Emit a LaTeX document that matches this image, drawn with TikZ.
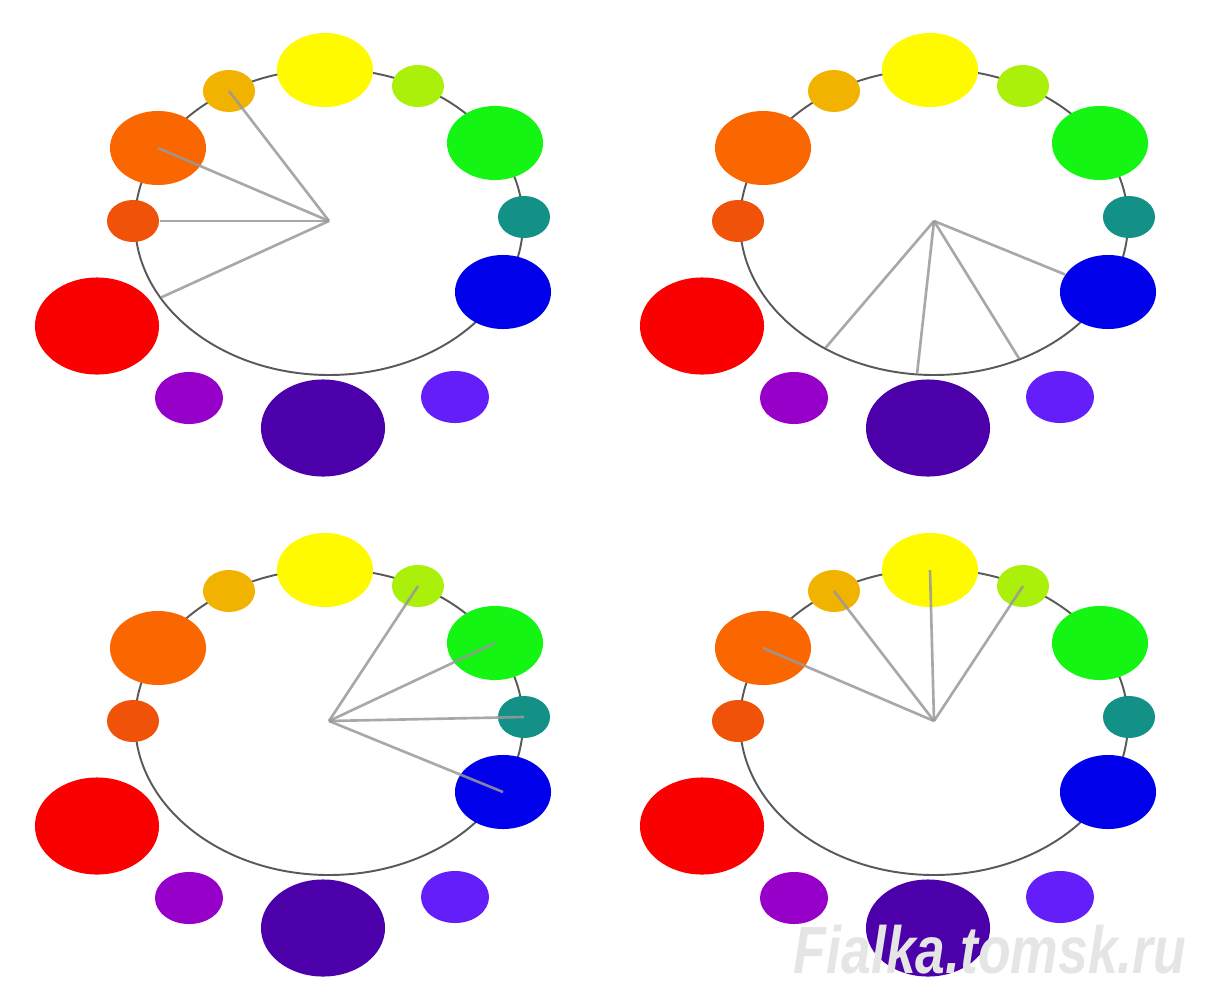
\documentclass[tikz,border=0pt]{standalone}
\usepackage{fontspec}
\newfontfamily\markfont{Liberation Sans}
\usetikzlibrary{shapes.geometric,calc}

\definecolor{cyellow}{RGB}{255,250,0}
\definecolor{cyelloworange}{RGB}{242,178,0}
\definecolor{corange}{RGB}{250,102,0}
\definecolor{credorange}{RGB}{240,82,10}
\definecolor{cred}{RGB}{250,0,0}
\definecolor{cviolet}{RGB}{150,0,200}
\definecolor{cpurple}{RGB}{75,0,170}
\definecolor{cblueviolet}{RGB}{100,30,250}
\definecolor{cblue}{RGB}{0,0,235}
\definecolor{cteal}{RGB}{20,145,135}
\definecolor{cgreen}{RGB}{20,245,20}
\definecolor{cyellowgreen}{RGB}{170,240,10}

\tikzset{
  hue/.style={ellipse, inner sep=0pt, draw=none},
  dotS/.style={hue, minimum width=0.52cm, minimum height=0.42cm},
  dotM/.style={hue, minimum width=0.68cm, minimum height=0.52cm},
  dotL/.style={hue, minimum width=0.96cm, minimum height=0.74cm},
  dotXL/.style={hue, minimum width=1.24cm, minimum height=0.97cm},
  rim/.style={draw=black!65, line width=0.55pt},
  spoke/.style={draw=black!40, line width=0.75pt, opacity=0.85},
  stamp/.style={text=black!10, font=\markfont\bfseries\itshape\fontsize{19}{19}\selectfont}
}

% one wheel of twelve hues, #1 = name prefix, (#2,#3) = shift in px
\newcommand{\colorwheel}[3]{%
  \begin{scope}[shift={(#2,#3)}]
    \draw[rim] (329,222) ellipse [x radius=194, y radius=153];
    \coordinate (#1c) at (329,221);
    \node[dotL, fill=cyellow]       (#1y)  at (325,70)  {};
    \node[dotS, fill=cyelloworange] (#1yo) at (229,91)  {};
    \node[dotL, fill=corange]       (#1o)  at (158,148) {};
    \node[dotS, fill=credorange]    (#1ro) at (133,221) {};
    \node[dotXL, fill=cred]         (#1r)  at (97,326)  {};
    \node[dotM, fill=cviolet]       (#1v)  at (189,398) {};
    \node[dotXL, fill=cpurple]      (#1p)  at (323,428) {};
    \node[dotM, fill=cblueviolet]   (#1bv) at (455,397) {};
    \node[dotL, fill=cblue]         (#1b)  at (503,292) {};
    \node[dotS, fill=cteal]         (#1t)  at (524,217) {};
    \node[dotL, fill=cgreen]        (#1g)  at (495,143) {};
    \node[dotS, fill=cyellowgreen]  (#1yg) at (418,86)  {};
  \end{scope}}

\begin{document}
\begin{tikzpicture}[x=0.01cm, y=-0.01cm]
  \useasboundingbox (0,0) rectangle (1206,1000);

  \colorwheel{tl}{0}{0}
  \colorwheel{tr}{605}{0}
  \colorwheel{bl}{0}{500}
  \colorwheel{br}{605}{500}

  % analogous: yellow-orange to red
  \coordinate (tlarc) at ($(tlc)+(150:194 and 153)$);
  \draw[spoke] (tlc) -- (tlyo.center);
  \draw[spoke] (tlc) -- (tlo.center);
  \draw[spoke] (tlc) -- (tlro);
  \draw[spoke] (tlc) -- (tlarc);

  % analogous: violet to blue
  \coordinate (trarcv) at ($(trc)+(124:194 and 153)$);
  \coordinate (trarcp) at ($(trc)+(95:194 and 153)$);
  \coordinate (trarcbv) at ($(trc)+(64:194 and 153)$);
  \draw[spoke] (trc) -- (trarcv);
  \draw[spoke] (trc) -- (trarcp);
  \draw[spoke] (trc) -- (trarcbv);
  \draw[spoke] (trc) -- (trb);

  % analogous: yellow-green to blue
  \draw[spoke] (blc) -- (blyg.center);
  \draw[spoke] (blc) -- (blg.center);
  \draw[spoke] (blc) -- (blt.center);
  \draw[spoke] (blc) -- (blb.center);

  % analogous: orange to yellow-green
  \draw[spoke] (brc) -- (bro.center);
  \draw[spoke] (brc) -- (bryo.center);
  \draw[spoke] (brc) -- (bry.center);
  \draw[spoke] (brc) -- (bryg.center);

  \node[stamp] (wm) at (990,950) {\scalebox{0.8}[1]{Fialka.tomsk.ru}};
\end{tikzpicture}
\end{document}
